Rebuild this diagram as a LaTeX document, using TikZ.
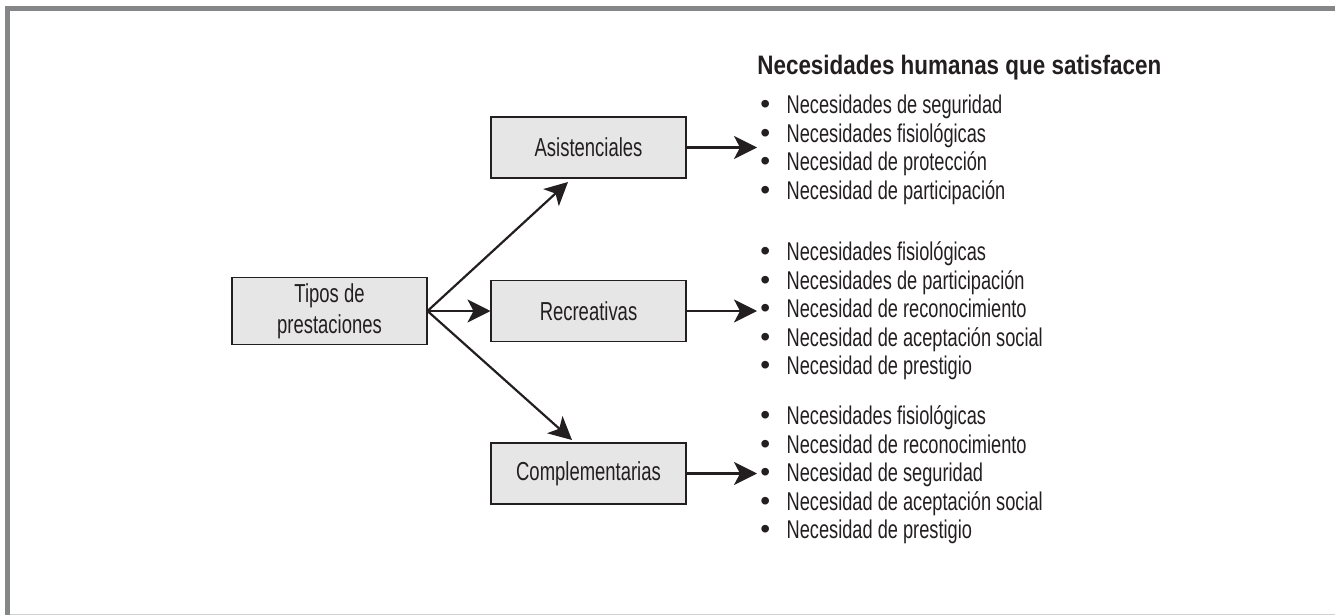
\documentclass[tikz,border=0pt]{standalone}
\usepackage{fontspec}
\setmainfont[FakeStretch=0.71]{Liberation Sans}
\newfontfamily\titfont[FakeStretch=0.84]{Liberation Sans}
\newfontfamily\bulfont{Liberation Sans}
\usepackage{tikz}
\usetikzlibrary{arrows.meta, positioning}
\definecolor{framegray}{HTML}{858688}
\definecolor{boxgray}{HTML}{E6E6E7}
\definecolor{inkgray}{HTML}{231F20}
\newcommand{\itm}[1]{{\bulfont\fontsize{16}{16}\selectfont\textbullet}\hspace{0.33cm}#1}

\begin{document}
\begin{tikzpicture}[x=0.02cm, y=-0.02cm,
        box/.style={draw=inkgray, line width=0.6pt, minimum width=3.9cm,
                    minimum height=1.22cm, font=\fontsize{14.8}{17.5}\selectfont,
                    align=center, text=inkgray, fill=#1},
        lista/.style={anchor=west, inner sep=0pt, align=left, text=inkgray,
                      font=\fontsize{14.6}{16.2}\selectfont},
        flecha/.style={-{Stealth[length=0.46cm, width=0.46cm, inset=0.12cm]},
                       line width=1.25pt, draw=inkgray}
    ]
        \useasboundingbox (0,0) rectangle (1335,615);
        % marco
        \fill[framegray] (5,6) rectangle (1335,11);
        \fill[framegray] (5,6) rectangle (10,615);
        \draw[gray!35, line width=0.5pt] (10,614) -- (1335,614);

        \node[box=boxgray] (tipos) at (329.5,311)   {Tipos de\\prestaciones};
        \node[box=boxgray] (asis)  at (588.5,147.5) {Asistenciales};
        \node[box=boxgray] (recr)  at (588.5,311)   {Recreativas};
        \node[box=boxgray] (comp)  at (588.5,473.5) {Complementarias};

        \node[lista, font=\titfont\fontsize{15.2}{16}\selectfont\bfseries] (titulo) at (757,68)
            {Necesidades humanas que satisfacen};
        \node[lista] (lasis) at (760,150) {\itm{Necesidades de seguridad}\\
            \itm{Necesidades fisiológicas}\\\itm{Necesidad de protección}\\
            \itm{Necesidad de participación}};
        \node[lista] (lrecr) at (760,311) {\itm{Necesidades fisiológicas}\\
            \itm{Necesidades de participación}\\\itm{Necesidad de reconocimiento}\\
            \itm{Necesidad de aceptación social}\\\itm{Necesidad de prestigio}};
        \node[lista] (lcomp) at (760,475) {\itm{Necesidades fisiológicas}\\
            \itm{Necesidad de reconocimiento}\\\itm{Necesidad de seguridad}\\
            \itm{Necesidad de aceptación social}\\\itm{Necesidad de prestigio}};

        \coordinate (pasis) at (568,182);
        \coordinate (pcomp) at (572,440);
        \draw[flecha] (tipos.east) -- (pasis);
        \draw[flecha] (tipos.east) -- (recr.west);
        \draw[flecha] (tipos.east) -- (pcomp);
        \draw[flecha] (asis.east) -- (asis.east -| titulo.west);
        \draw[flecha] (recr.east) -- (recr.east -| titulo.west);
        \draw[flecha] (comp.east) -- (comp.east -| titulo.west);
    \end{tikzpicture}
\end{document}
